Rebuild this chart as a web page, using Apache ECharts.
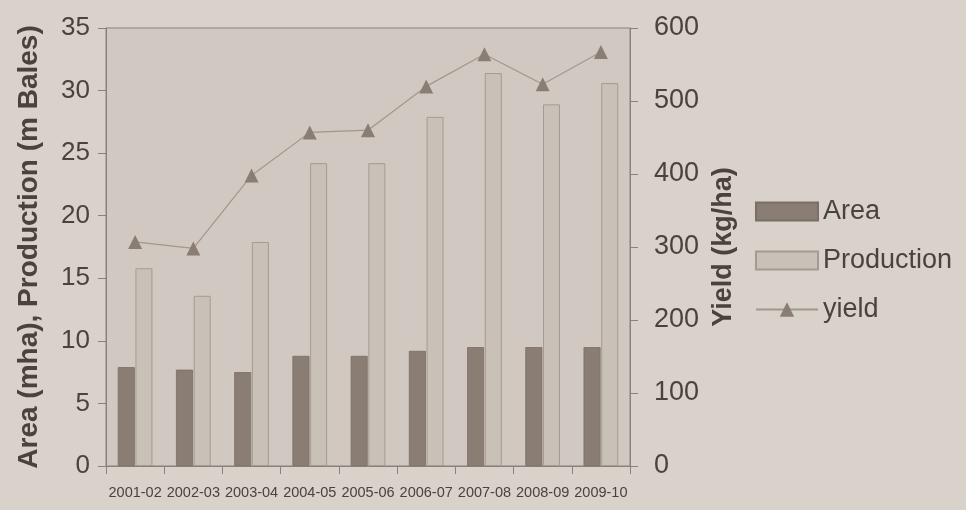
<!DOCTYPE html>
<html>
<head>
<meta charset="utf-8">
<script src="https://cdn.jsdelivr.net/npm/echarts@6/dist/echarts.min.js"></script>
<style>
html,body{margin:0;padding:0;background:#d9d2cb;}
#c{width:966px;height:510px;}
</style>
</head>
<body>
<div id="c"></div>
<script>
const categories = ['2001-02','2002-03','2003-04','2004-05','2005-06','2006-07','2007-08','2008-09','2009-10'];
const areaValues = [7.9, 7.7, 7.5, 8.8, 8.8, 9.2, 9.5, 9.5, 9.5];
const productionValues = [15.8, 13.6, 17.9, 24.2, 24.2, 27.9, 31.4, 28.9, 30.6];
const yieldValues = [307, 298, 398, 457, 460, 520, 564, 523, 567];
const leftTicks = {min: 0, max: 35, interval: 5};
const rightTicks = {min: 0, max: 600, interval: 100};

const txt = '#4a423d';
const axisCol = '#8a817a';
const font = '"Liberation Sans", Arial, sans-serif';

const chart = echarts.init(document.getElementById('c'));
chart.setOption({
  backgroundColor: '#d9d2cb',
  animation: false,
  grid: {left: 106, right: 336, top: 28, bottom: 44, show: true,
         backgroundColor: '#d1c9c1', borderColor: axisCol, borderWidth: 1},
  legend: {
    orient: 'vertical', left: 750, top: 193,
    itemWidth: 62, itemHeight: 18, itemGap: 22,
    textStyle: {fontSize: 27, color: txt, fontFamily: font},
    data: [
      {name: 'Area', icon: 'rect'},
      {name: 'Production', icon: 'rect'},
      {name: 'yield'}
    ]
  },
  xAxis: {
    type: 'category', data: categories,
    axisLine: {lineStyle: {color: axisCol, width: 1}},
    axisTick: {show: true, length: 8, lineStyle: {color: axisCol}},
    axisLabel: {interval: 0, fontSize: 14.5, color: txt, fontFamily: font, margin: 19}
  },
  yAxis: [
    {
      type: 'value', min: leftTicks.min, max: leftTicks.max, interval: leftTicks.interval,
      name: 'Area (mha), Production (m Bales)', nameLocation: 'middle', nameGap: 63,
      nameTextStyle: {fontSize: 28, fontWeight: 'bold', color: txt, fontFamily: font},
      axisLine: {show: true, lineStyle: {color: axisCol}},
      axisTick: {show: true, length: 8, lineStyle: {color: axisCol}},
      splitLine: {show: false},
      axisLabel: {fontSize: 26, color: txt, fontFamily: font, margin: 16}
    },
    {
      type: 'value', min: rightTicks.min, max: rightTicks.max, interval: rightTicks.interval,
      position: 'right',
      name: 'Yield (kg/ha)', nameLocation: 'middle', nameGap: 79,
      nameTextStyle: {fontSize: 27, fontWeight: 'bold', color: txt, fontFamily: font},
      axisLine: {show: true, lineStyle: {color: axisCol}},
      axisTick: {show: true, length: 8, lineStyle: {color: axisCol}},
      splitLine: {show: false},
      axisLabel: {fontSize: 27, color: txt, fontFamily: font, margin: 24}
    }
  ],
  series: [
    {
      name: 'Area', type: 'bar', yAxisIndex: 0, data: areaValues,
      barWidth: 17, barGap: '4%',
      itemStyle: {color: '#8a7d74', borderColor: '#7a6e66', borderWidth: 0.8}
    },
    {
      name: 'Production', type: 'bar', yAxisIndex: 0, data: productionValues,
      barWidth: 17,
      itemStyle: {color: '#c9c0b7', borderColor: '#a49b92', borderWidth: 1}
    },
    {
      name: 'yield', type: 'line', yAxisIndex: 1, data: yieldValues,
      symbol: 'triangle', symbolSize: 14,
      lineStyle: {color: '#a0978f', width: 1.2},
      itemStyle: {color: '#8a7d74'}
    }
  ]
});
</script>
</body>
</html>
